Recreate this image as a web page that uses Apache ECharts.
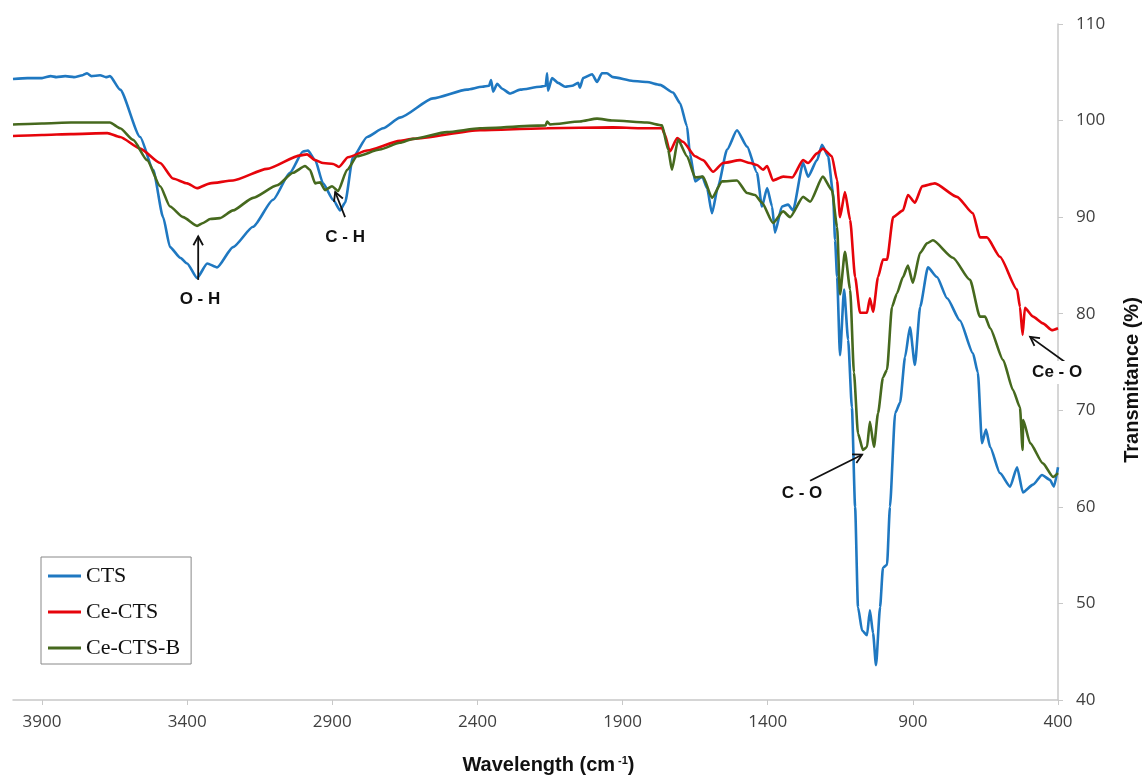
<!DOCTYPE html>
<html>
<head>
<meta charset="utf-8">
<title>FTIR</title>
<script src="https://cdn.jsdelivr.net/npm/echarts@6/dist/echarts.min.js"></script>
<style>
  html, body { margin: 0; padding: 0; background: #fff; overflow: hidden; }
  #chart { width: 1142px; height: 776px; }
</style>
</head>
<body>
<div id="chart"></div>
<script>
// wavenumber (cm-1), transmittance (%)
const cts = [
  [4000,104.3],[3950,104.4],[3900,104.4],[3870,104.6],[3850,104.5],[3820,104.6],[3790,104.5],[3760,104.7],
  [3745,104.9],[3730,104.6],[3700,104.7],[3680,104.5],[3666,104.6],[3631,103.2],[3562,98.3],[3517,94.9],
  [3483,90.0],[3459,86.9],[3424,85.8],[3400,85.2],[3366,83.7],[3331,85.2],[3297,84.8],[3242,86.9],
  [3173,89.0],[3104,91.8],[3046,94.6],[3001,96.8],[2984,96.9],[2959,95.9],[2932,93.5],[2897,91.8],
  [2873,90.7],[2856,91.5],[2829,96.2],[2780,98.3],[2725,99.2],[2667,100.3],[2553,102.3],[2436,103.2],
  [2384,103.5],[2360,103.6],[2353,104.2],[2346,103.0],[2332,103.8],[2315,103.3],[2288,102.8],[2253,103.2],
  [2184,103.5],[2165,103.6],[2160,104.9],[2157,103.1],[2143,104.4],[2122,103.9],[2098,103.5],[2074,103.6],
  [2053,103.9],[2047,103.4],[2036,104.4],[2005,104.8],[1988,104.0],[1971,104.9],[1954,104.9],[1933,104.5],
  [1864,104.1],[1816,104.0],[1771,103.7],[1726,102.9],[1702,101.8],[1678,99.4],[1668,96.6],[1650,93.7],
  [1626,94.2],[1609,93.0],[1592,90.4],[1571,93.2],[1540,97.0],[1506,99.0],[1471,97.3],[1437,94.6],
  [1420,91.1],[1402,93.0],[1385,91.1],[1375,88.4],[1351,91.1],[1330,91.3],[1313,90.7],[1278,95.6],
  [1261,94.2],[1230,95.9],[1213,97.5],[1192,96.3],[1175,92.5],[1168,87.6],[1161,83.8],[1151,75.7],
  [1137,82.5],[1123,77.3],[1110,70.3],[1099,60.0],[1089,49.6],[1075,47.2],[1058,46.7],[1048,49.3],
  [1037,46.9],[1027,43.6],[1013,49.6],[1003,53.7],[989,54.0],[979,60.0],[961,69.7],[944,70.8],
  [927,75.5],[910,78.6],[893,74.7],[875,80.7],[848,84.8],[817,83.8],[782,81.6],[738,79.3],
  [693,75.9],[676,73.9],[662,66.6],[648,68.0],[634,66.2],[600,63.5],[565,62.1],[541,64.1],
  [521,61.5],[486,62.3],[455,63.3],[428,62.8],[414,62.1],[400,64.1]
];
const ceCts = [
  [4000,98.4],[3900,98.5],[3800,98.6],[3675,98.7],[3631,98.3],[3562,97.1],[3493,95.6],[3449,94.0],
  [3400,93.5],[3366,93.0],[3321,93.5],[3242,93.8],[3125,95.0],[3011,96.4],[2987,96.5],[2959,95.9],
  [2932,95.6],[2897,95.5],[2877,95.2],[2846,96.2],[2780,96.9],[2667,97.9],[2622,98.1],[2391,99.0],
  [2160,99.2],[1933,99.3],[1840,99.2],[1764,99.2],[1755,98.6],[1737,96.8],[1712,98.2],[1692,97.8],
  [1650,96.3],[1623,95.9],[1588,94.7],[1554,95.6],[1495,95.9],[1461,95.6],[1437,95.4],[1416,94.9],
  [1402,95.3],[1382,93.8],[1347,94.2],[1316,94.1],[1278,95.9],[1261,95.6],[1230,96.6],[1210,97.1],
  [1179,96.3],[1161,93.8],[1151,90.0],[1134,92.6],[1116,89.7],[1099,83.8],[1082,80.1],[1058,80.1],
  [1048,81.6],[1037,80.2],[1020,83.8],[1003,85.6],[989,85.6],[968,90.0],[934,90.7],[917,92.3],
  [893,91.5],[868,93.2],[824,93.5],[748,92.1],[693,90.4],[669,87.9],[645,87.9],[600,85.9],
  [541,82.5],[531,80.7],[522,77.8],[514,80.6],[486,79.7],[452,79.0],[421,78.3],[400,78.5]
];
const ceCtsB = [
  [4000,99.6],[3900,99.7],[3800,99.8],[3666,99.8],[3631,99.2],[3586,98.0],[3538,95.9],[3493,93.2],
  [3459,91.1],[3414,90.0],[3366,89.1],[3345,89.4],[3321,89.8],[3287,89.9],[3242,90.7],[3173,92.0],
  [3090,93.3],[3035,94.6],[2994,95.3],[2977,94.9],[2959,93.5],[2942,93.6],[2925,92.8],[2901,93.2],
  [2880,92.7],[2849,94.9],[2815,96.3],[2736,97.0],[2667,97.7],[2622,98.1],[2505,98.8],[2391,99.2],
  [2165,99.5],[2160,99.9],[2150,99.6],[2047,99.9],[1988,100.2],[1933,100.0],[1816,99.8],[1764,99.5],
  [1743,97.0],[1730,94.9],[1709,98.0],[1678,96.3],[1650,94.1],[1623,94.2],[1592,92.0],[1557,93.7],
  [1506,93.8],[1471,92.5],[1444,92.3],[1420,91.5],[1382,89.4],[1347,90.6],[1323,90.0],[1278,92.1],
  [1254,91.6],[1210,94.2],[1179,92.8],[1161,89.0],[1151,82.0],[1134,86.4],[1116,82.5],[1103,73.9],
  [1089,67.6],[1072,65.9],[1058,66.2],[1048,68.8],[1034,66.2],[1020,69.7],[1003,73.4],[989,74.2],
  [972,80.7],[955,82.1],[934,83.8],[917,85.0],[900,83.2],[875,86.3],[851,87.3],[831,87.6],
  [762,85.8],[703,83.5],[669,79.7],[651,79.7],[634,78.5],[589,75.2],[555,72.1],[531,70.3],
  [522,65.9],[520,69.0],[496,66.6],[452,64.5],[417,63.1],[400,63.5]
];
const xTicks = [3900, 3400, 2900, 2400, 1900, 1400, 900, 400];

// peak labels: text, label position, arrow tail, arrow tip (wavenumber, %)
const notes = [
  { text: 'O - H',  at: [3356, 81.5], from: [3362, 83.5], to: [3362, 88.0] },
  { text: 'C - H',  at: [2856, 87.9], from: [2856, 90.0], to: [2890, 92.6] },
  { text: 'C - O',  at: [1282, 61.4], from: [1254, 62.7], to: [1075, 65.4] },
  { text: 'Ce - O', at: [403, 73.9],  from: [376, 75.0],  to: [496, 77.6] }
];

const chart = echarts.init(document.getElementById('chart'));
const axisColor = '#c8c8c8';
const labelColor = '#404040';

function lineSeries(name, data, color, z) {
  return {
    name: name, type: 'line', data: data, z: z,
    showSymbol: false, symbol: 'none',
    smooth: 0.2, smoothMonotone: 'x',
    lineStyle: { color: color, width: 2.6 },
    itemStyle: { color: color }
  };
}

chart.setOption({
  animation: false,
  grid: { left: 13, right: 84, top: 24, bottom: 76, containLabel: false, outerBoundsMode: 'none' },
  legend: {
    orient: 'vertical',
    left: 41, top: 557,
    padding: [8, 11, 5, 7],
    itemGap: 14,
    itemWidth: 33, itemHeight: 3,
    icon: 'rect',
    borderColor: '#888', borderWidth: 1,
    textStyle: { fontFamily: 'Liberation Serif', fontSize: 22, color: '#111' },
    data: ['CTS', 'Ce-CTS', 'Ce-CTS-B']
  },
  xAxis: {
    type: 'value', inverse: true, min: 400, max: 4000,
    name: 'Wavelength (cm{sup|-1})', nameLocation: 'middle', nameGap: 55,
    nameTextStyle: {
      fontFamily: 'Liberation Sans', fontWeight: 'bold', fontSize: 20, color: '#111',
      padding: [0, 0, 0, 26],
      rich: { sup: { fontSize: 11, fontWeight: 'bold', verticalAlign: 'top', padding: [0, 0, 8, 3], fontFamily: 'Liberation Sans' } }
    },
    axisLine: { lineStyle: { color: axisColor, width: 1.5 } },
    axisTick: { show: true, length: 5, lineStyle: { color: axisColor }, customValues: xTicks },
    axisLabel: {
      customValues: xTicks, margin: 14, fontFamily: 'Open Sans', fontSize: 17, color: labelColor,
      formatter: function (v) { return String(v); }
    },
    splitLine: { show: false }
  },
  yAxis: {
    type: 'value', position: 'right', min: 40, max: 110, interval: 10,
    name: 'Transmitance (%)', nameLocation: 'middle', nameGap: 64,
    nameTextStyle: {
      fontFamily: 'Liberation Sans', fontWeight: 'bold', fontSize: 20, color: '#111',
      padding: [0, 36, 0, 0]
    },
    axisLine: { show: true, lineStyle: { color: axisColor, width: 1.5 } },
    axisTick: { show: true, length: 5, lineStyle: { color: axisColor } },
    axisLabel: { margin: 18, fontFamily: 'Open Sans', fontSize: 17, color: labelColor },
    splitLine: { show: false }
  },
  series: [
    lineSeries('CTS', cts, '#1f78c1', 3),
    lineSeries('Ce-CTS', ceCts, '#e6040b', 4),
    lineSeries('Ce-CTS-B', ceCtsB, '#46691e', 5)
  ]
});

// arrows and labels placed from data coordinates
const graphics = [];
notes.forEach(function (n) {
  const a = chart.convertToPixel({ gridIndex: 0 }, n.from);
  const b = chart.convertToPixel({ gridIndex: 0 }, n.to);
  const p = chart.convertToPixel({ gridIndex: 0 }, n.at);
  const ang = Math.atan2(b[1] - a[1], b[0] - a[0]);
  const len = 10, spread = 0.5;
  const h1 = [b[0] - len * Math.cos(ang - spread), b[1] - len * Math.sin(ang - spread)];
  const h2 = [b[0] - len * Math.cos(ang + spread), b[1] - len * Math.sin(ang + spread)];
  graphics.push({
    type: 'line', z: 100,
    shape: { x1: a[0], y1: a[1], x2: b[0], y2: b[1] },
    style: { stroke: '#111', lineWidth: 1.8 }
  });
  graphics.push({
    type: 'polyline', z: 100,
    shape: { points: [h1, b, h2] },
    style: { stroke: '#111', lineWidth: 1.8, fill: null }
  });
  graphics.push({
    type: 'text', z: 101, x: p[0], y: p[1],
    style: {
      text: n.text, fontFamily: 'Liberation Sans', fontWeight: 'bold', fontSize: 17,
      fill: '#111', align: 'center', verticalAlign: 'middle',
      backgroundColor: '#fff', padding: [3, 2]
    }
  });
});
chart.setOption({ graphic: graphics });
</script>
</body>
</html>
